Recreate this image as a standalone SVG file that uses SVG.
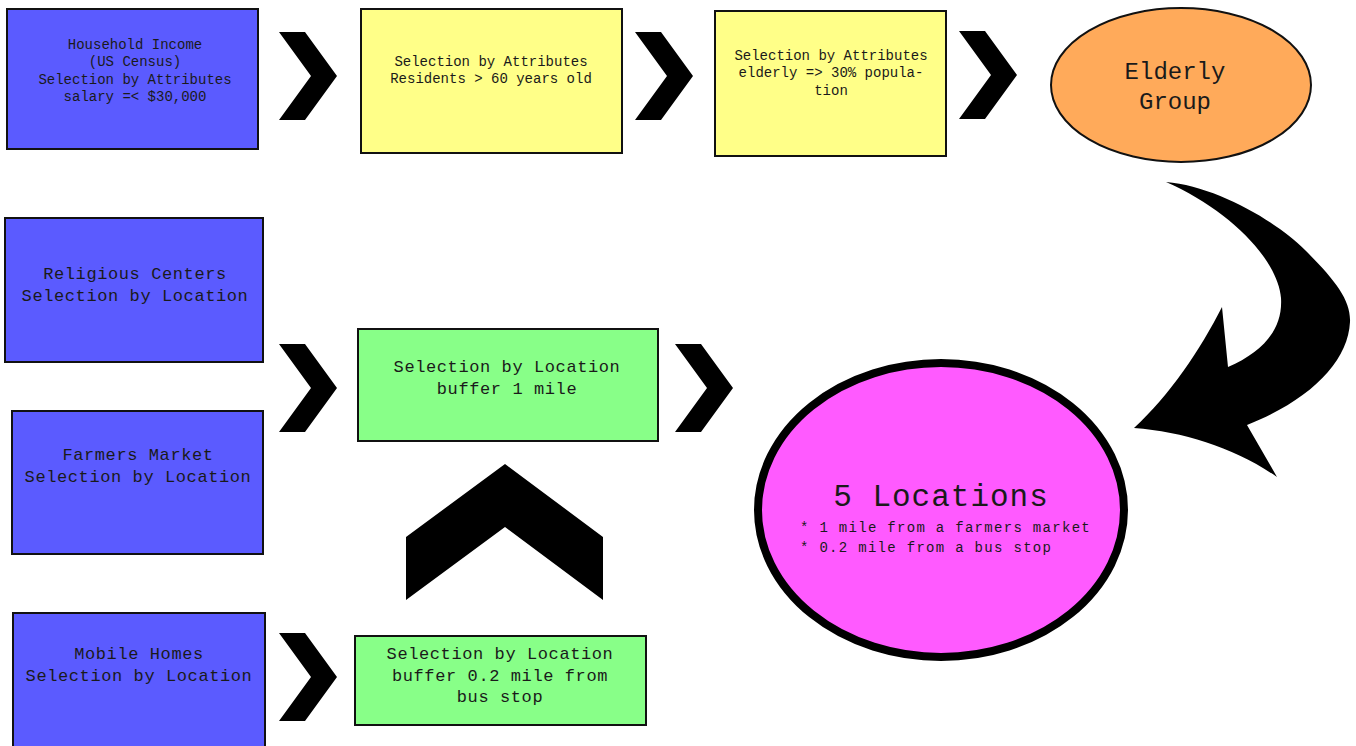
<svg xmlns="http://www.w3.org/2000/svg" xmlns:xlink="http://www.w3.org/1999/xlink" width="1356" height="746" viewBox="0 0 1356 746">
<style>
text{font-family:"Liberation Mono","Courier New",monospace;fill:#1a1a1a;text-anchor:middle}
.blue{fill:#5b5bff;stroke:#111;stroke-width:2}
.yellow{fill:#ffff88;stroke:#111;stroke-width:2}
.green{fill:#88ff88;stroke:#111;stroke-width:2}
.s{font-size:14px}
.m{font-size:17px;letter-spacing:0.6px}
.arrow{fill:#000}
</style>
<defs>
<path id="chev" d="M0,0 H26 L58,44 L26,88 H0 L32,44 Z"/>
</defs>
<rect width="1356" height="746" fill="#fff"/>

<g id="household">
<rect class="blue" x="7" y="9" width="251" height="140"/>
<text class="s" x="135" y="49">Household Income</text>
<text class="s" x="135" y="66">(US Census)</text>
<text class="s" x="135" y="84">Selection by Attributes</text>
<text class="s" x="135" y="101">salary =&lt; $30,000</text>
</g>
<g id="residents">
<rect class="yellow" x="361" y="9" width="261" height="144"/>
<text class="s" x="491" y="66">Selection by Attributes</text>
<text class="s" x="491" y="83">Residents &gt; 60 years old</text>
</g>
<g id="elderly30">
<rect class="yellow" x="715" y="11" width="231" height="145"/>
<text class="s" x="831" y="60">Selection by Attributes</text>
<text class="s" x="831" y="77">elderly =&gt; 30% popula-</text>
<text class="s" x="831" y="95">tion</text>
</g>
<g id="elderlygroup">
<ellipse cx="1181" cy="85" rx="130" ry="77" fill="#ffaa5a" stroke="#111" stroke-width="2"/>
<text x="1175" y="79" font-size="24">Elderly</text>
<text x="1175" y="109" font-size="24">Group</text>
</g>
<g id="religious">
<rect class="blue" x="5" y="218" width="258" height="144"/>
<text class="m" x="135" y="279">Religious Centers</text>
<text class="m" x="135" y="301">Selection by Location</text>
</g>
<g id="farmers">
<rect class="blue" x="12" y="411" width="251" height="143"/>
<text class="m" x="138" y="460">Farmers Market</text>
<text class="m" x="138" y="482">Selection by Location</text>
</g>
<g id="mobile">
<rect class="blue" x="13" y="613" width="252" height="140"/>
<text class="m" x="139" y="659">Mobile Homes</text>
<text class="m" x="139" y="681">Selection by Location</text>
</g>
<g id="buffer1">
<rect class="green" x="358" y="329" width="300" height="112"/>
<text class="m" x="507" y="372">Selection by Location</text>
<text class="m" x="507" y="394">buffer 1 mile</text>
</g>
<g id="buffer02">
<rect class="green" x="355" y="636" width="291" height="89"/>
<text class="m" x="500" y="659">Selection by Location</text>
<text class="m" x="500" y="681">buffer 0.2 mile from</text>
<text class="m" x="500" y="702">bus stop</text>
</g>
<g id="locations">
<ellipse cx="941" cy="510" rx="183" ry="147" fill="#ff5aff" stroke="#000" stroke-width="8"/>
<text x="941" y="506" font-size="31" letter-spacing="1">5 Locations</text>
<text x="800" y="532" font-size="14" letter-spacing="1.3" style="text-anchor:start">* 1 mile from a farmers market</text>
<text x="800" y="552" font-size="14" letter-spacing="1.3" style="text-anchor:start">* 0.2 mile from a bus stop</text>
</g>

<g id="connectors" class="arrow">
<use xlink:href="#chev" x="279" y="32"/>
<use xlink:href="#chev" x="635" y="32"/>
<use xlink:href="#chev" x="959" y="31"/>
<use xlink:href="#chev" x="279" y="344"/>
<use xlink:href="#chev" x="675" y="344"/>
<use xlink:href="#chev" x="279" y="633"/>
<path d="M505,464 L603,537 V600 L505,527 L406,600 V537 Z"/>
<path d="M1166,182 C1215,186 1275,220 1305,250 C1335,280 1351,300 1350,322 C1348,362 1310,400 1247,425 L1277,477 C1235,448 1185,432 1134,428 C1170,395 1200,350 1222,307 L1228,367 C1262,352 1283,330 1281,298 C1278,260 1230,210 1166,182 Z"/>
</g>
</svg>
